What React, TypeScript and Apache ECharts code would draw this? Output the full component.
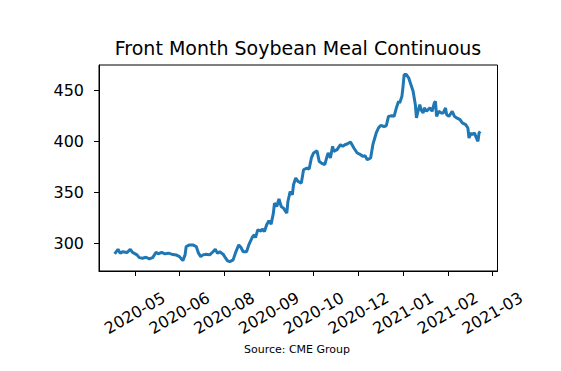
import React, { useEffect, useRef } from "react";
import * as echarts from "echarts";

const dates: string[] = [
  "2020-04-27", "2020-04-30", "2020-05-02", "2020-05-04", "2020-05-08", "2020-05-11", "2020-05-13", "2020-05-17",
  "2020-05-19", "2020-05-22", "2020-05-25", "2020-05-28", "2020-05-31", "2020-06-03", "2020-06-05", "2020-06-08",
  "2020-06-11", "2020-06-14", "2020-06-17", "2020-06-21", "2020-06-24", "2020-06-27", "2020-06-29", "2020-06-30",
  "2020-07-03", "2020-07-06", "2020-07-09", "2020-07-11", "2020-07-13", "2020-07-15", "2020-07-18", "2020-07-21",
  "2020-07-24", "2020-07-26", "2020-07-28", "2020-07-30", "2020-08-02", "2020-08-04", "2020-08-06", "2020-08-08",
  "2020-08-11", "2020-08-13", "2020-08-16", "2020-08-18", "2020-08-20", "2020-08-23", "2020-08-25", "2020-08-28",
  "2020-08-30", "2020-08-31", "2020-09-02", "2020-09-05", "2020-09-06", "2020-09-08", "2020-09-10", "2020-09-12",
  "2020-09-14", "2020-09-16", "2020-09-17", "2020-09-19", "2020-09-21", "2020-09-23", "2020-09-25", "2020-09-28",
  "2020-09-29", "2020-10-01", "2020-10-03", "2020-10-04", "2020-10-06", "2020-10-08", "2020-10-11", "2020-10-13",
  "2020-10-16", "2020-10-18", "2020-10-20", "2020-10-22", "2020-10-25", "2020-10-27", "2020-10-29", "2020-11-01",
  "2020-11-03", "2020-11-04", "2020-11-06", "2020-11-08", "2020-11-09", "2020-11-12", "2020-11-15", "2020-11-17",
  "2020-11-19", "2020-11-21", "2020-11-24", "2020-11-27", "2020-11-30", "2020-12-03", "2020-12-05", "2020-12-07",
  "2020-12-09", "2020-12-12", "2020-12-14", "2020-12-17", "2020-12-19", "2020-12-21", "2020-12-24", "2020-12-26",
  "2020-12-28", "2020-12-31", "2021-01-02", "2021-01-04", "2021-01-06", "2021-01-07", "2021-01-09", "2021-01-10",
  "2021-01-11", "2021-01-13", "2021-01-15", "2021-01-17", "2021-01-19", "2021-01-21", "2021-01-22", "2021-01-23",
  "2021-01-25", "2021-01-26", "2021-01-28", "2021-01-29", "2021-01-31", "2021-02-03", "2021-02-05", "2021-02-07",
  "2021-02-08", "2021-02-09", "2021-02-11", "2021-02-13", "2021-02-15", "2021-02-17", "2021-02-18", "2021-02-20",
  "2021-02-23", "2021-02-25", "2021-02-27", "2021-03-02", "2021-03-04", "2021-03-07", "2021-03-09", "2021-03-10",
  "2021-03-12", "2021-03-13", "2021-03-15", "2021-03-16", "2021-03-18", "2021-03-19", "2021-03-20",
];

const prices: number[] = [
  289.5, 294, 290, 291.6, 290.8, 294, 291, 288.5,
  285.8, 285.2, 286.2, 284.6, 285.8, 291, 289.5, 291,
  289.5, 290.2, 289.2, 288.5, 286.8, 282.9, 288.5, 296.7,
  298.3, 298.3, 296.7, 290.2, 286.8, 288.5, 289.2, 288.5,
  291.6, 294, 290.2, 291.6, 289.2, 285.8, 282.6, 281.9,
  283.6, 290.2, 298.3, 295.7, 291.6, 291.6, 298.3, 305.5,
  308.2, 305.5, 313, 312, 314, 311.4, 318, 322,
  318.7, 329.5, 339.3, 336, 343.5, 336, 334.4, 329.5,
  340.9, 350.7, 347.5, 357.3, 363.9, 360.6, 359, 372,
  373.7, 372.7, 383.6, 388.5, 390.7, 380.2, 378.6, 377,
  385.1, 388.5, 383.6, 395, 390, 391.7, 396.6, 395,
  396.6, 397.3, 399.3, 393.4, 388.5, 386.8, 385.1, 385.8,
  381.8, 383.6, 396.6, 408.1, 413, 415.6, 414.5, 415.2,
  424.4, 425.1, 424.4, 432.7, 439.2, 437.6, 444.1, 453.9,
  465.4, 465.4, 462.2, 455.6, 449, 435.9, 422.9, 427.8,
  435.9, 431, 427.8, 432.7, 429.4, 432.7, 429.4, 437.6,
  439.2, 424.4, 429.4, 427.8, 427.8, 432.7, 426.1, 424.4,
  429.4, 424.4, 422.9, 421.2, 418, 416.3, 413, 403.2,
  408.1, 406.5, 408.1, 404.8, 399.9, 408.1, 409.7,
];

const xTickDates: string[] = [
  "2020-05-15", "2020-06-24", "2020-08-03", "2020-09-12", "2020-10-22",
  "2020-12-01", "2021-01-10", "2021-02-19", "2021-03-31",
];
const yTicks: number[] = [300, 350, 400, 450];

const X_MIN = "2020-04-13";
const X_MAX = "2021-04-04T12:00:00Z";
const Y_MIN = 272.7;
const Y_MAX = 474.8;

const TITLE = "Front Month Soybean Meal Continuous";
const SOURCE = "Source: CME Group";

const FONT = "DejaVu Sans";

function fmtMonth(v: number): string {
  const d = new Date(v);
  const m = d.getUTCMonth() + 1;
  return d.getUTCFullYear() + "-" + (m < 10 ? "0" + m : "" + m);
}

export default function App() {
  const ref = useRef<HTMLDivElement>(null);
  useEffect(() => {
    if (!ref.current) return;
    const chart = echarts.init(ref.current, null, { renderer: "svg" });
    const seriesData = dates.map((d, i) => [Date.parse(d), prices[i]]);
    const xTicks = xTickDates.map((d) => Date.parse(d));
    chart.setOption({
      animation: false,
      backgroundColor: "#ffffff",
      grid: {
        left: 99,
        right: 63.5,
        top: 65,
        bottom: 100,
        show: true,
        borderColor: "#000000",
        borderWidth: 1,
        backgroundColor: "transparent",
      },
      graphic: [
        {
          type: "text",
          x: 298,
          y: 48,
          style: {
            text: TITLE,
            fontFamily: FONT,
            fontSize: 19,
            fill: "#000000",
            textAlign: "center",
            textVerticalAlign: "middle",
          },
        },
        {
          type: "text",
          x: 297,
          y: 349,
          style: {
            text: SOURCE,
            fontFamily: FONT,
            fontSize: 11,
            fill: "#000000",
            textAlign: "center",
            textVerticalAlign: "middle",
          },
        },
      ],
      xAxis: {
        type: "value",
        min: Date.parse(X_MIN),
        max: Date.parse(X_MAX),
        splitLine: { show: false },
        axisLine: { show: true, lineStyle: { color: "#000000", width: 1 } },
        axisTick: {
          show: true,
          length: 5,
          lineStyle: { color: "#000000", width: 1 },
          customValues: xTicks,
        },
        axisLabel: {
          customValues: xTicks,
          formatter: (v: number) => fmtMonth(v),
          rotate: 30,
          align: "center",
          verticalAlign: "middle",
          margin: 42,
          fontFamily: FONT,
          fontSize: 16,
          color: "#000000",
        },
      },
      yAxis: {
        type: "value",
        min: Y_MIN,
        max: Y_MAX,
        splitLine: { show: false },
        axisLine: { show: true, lineStyle: { color: "#000000", width: 1 } },
        axisTick: {
          show: true,
          length: 5,
          lineStyle: { color: "#000000", width: 1 },
          customValues: yTicks,
        },
        axisLabel: {
          customValues: yTicks,
          margin: 15,
          fontFamily: FONT,
          fontSize: 16,
          color: "#000000",
        },
      },
      series: [
        {
          type: "line",
          data: seriesData,
          showSymbol: false,
          symbol: "none",
          lineStyle: { color: "#1f77b4", width: 3 },
          itemStyle: { color: "#1f77b4" },
        },
      ],
    });
    return () => chart.dispose();
  }, []);
  return (
    <div
      ref={ref}
      style={{ position: "absolute", left: 0, top: 0, width: 561, height: 371 }}
    />
  );
}
